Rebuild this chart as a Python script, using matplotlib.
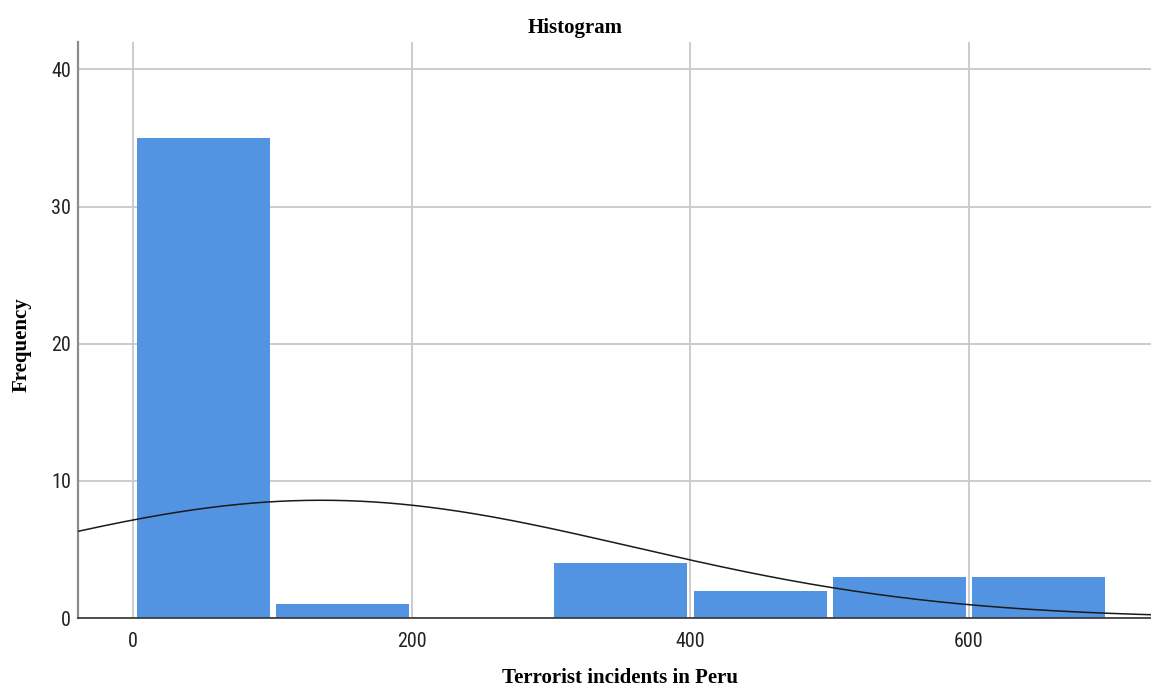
import numpy as np
import matplotlib
matplotlib.use("Agg")
import matplotlib.pyplot as plt
from matplotlib import font_manager

# Histogram bins (incidents) and counts
bin_edges = [0, 100, 200, 300, 400, 500, 600, 700]
counts = [35, 1, 0, 4, 2, 3, 3]

# Summary statistics for the fitted normal curve
n_obs = 48
mean_val = 135.0
std_val = 223.0

x_ticks = [0, 200, 400, 600]
y_ticks = [0, 10, 20, 30, 40]

narrow_candidates = ["Liberation Sans Narrow", "Roboto Condensed", "Open Sans Condensed"]
names = {f.name for f in font_manager.fontManager.ttflist}
narrow = next((n for n in narrow_candidates if n in names), "DejaVu Sans")
serif = "Liberation Serif"

fig = plt.figure(figsize=(11.51, 6.89), dpi=100)
ax = fig.add_axes([0.0678, 0.103, 0.9322, 0.836])

# bars are drawn slightly inset from the bin edges, leaving white gaps
edges = np.array(bin_edges, dtype=float)
widths = np.diff(edges)
inset_l, inset_r = 2.5, 2.0
ax.bar(edges[:-1] + inset_l, counts, width=widths - inset_l - inset_r, align="edge",
       color="#5294e2", linewidth=0, zorder=2)

bw = widths[0]
xs = np.linspace(-40, 732, 400)
ys = n_obs * bw / (std_val * np.sqrt(2 * np.pi)) * np.exp(-0.5 * ((xs - mean_val) / std_val) ** 2)
ax.plot(xs, ys, color="#1a1a1a", linewidth=1.1, zorder=3)

ax.set_xlim(-39.5, 731)
ax.set_ylim(0, 42)
ax.set_xticks(x_ticks)
ax.set_yticks(y_ticks)
ax.grid(True, color="#c8c8c8", linewidth=1.3, zorder=0)
ax.set_axisbelow(True)
ax.tick_params(axis="y", length=0, pad=5, labelsize=14.5, colors="#222222")
ax.tick_params(axis="x", length=0, pad=10, labelsize=14.5, colors="#222222")
for lbl in ax.get_xticklabels() + ax.get_yticklabels():
    lbl.set_fontfamily(narrow)
    lbl.set_fontstretch("condensed")

for s in ["top", "right"]:
    ax.spines[s].set_visible(False)
ax.spines["left"].set_color("#8c8c8c")
ax.spines["left"].set_linewidth(1.6)
ax.spines["bottom"].set_color("#333333")
ax.spines["bottom"].set_linewidth(1.2)

fig.text(0.5, 0.959, "Histogram", ha="center", va="center",
         fontfamily=serif, fontweight="bold", fontsize=15)
fig.text(0.019, 0.5, "Frequency", ha="center", va="center", rotation=90,
         fontfamily=serif, fontweight="bold", fontsize=15)
fig.text(0.539, 0.016, "Terrorist incidents in Peru", ha="center", va="center",
         fontfamily=serif, fontweight="bold", fontsize=15)

fig.savefig("out.png", dpi=100, facecolor="white")
